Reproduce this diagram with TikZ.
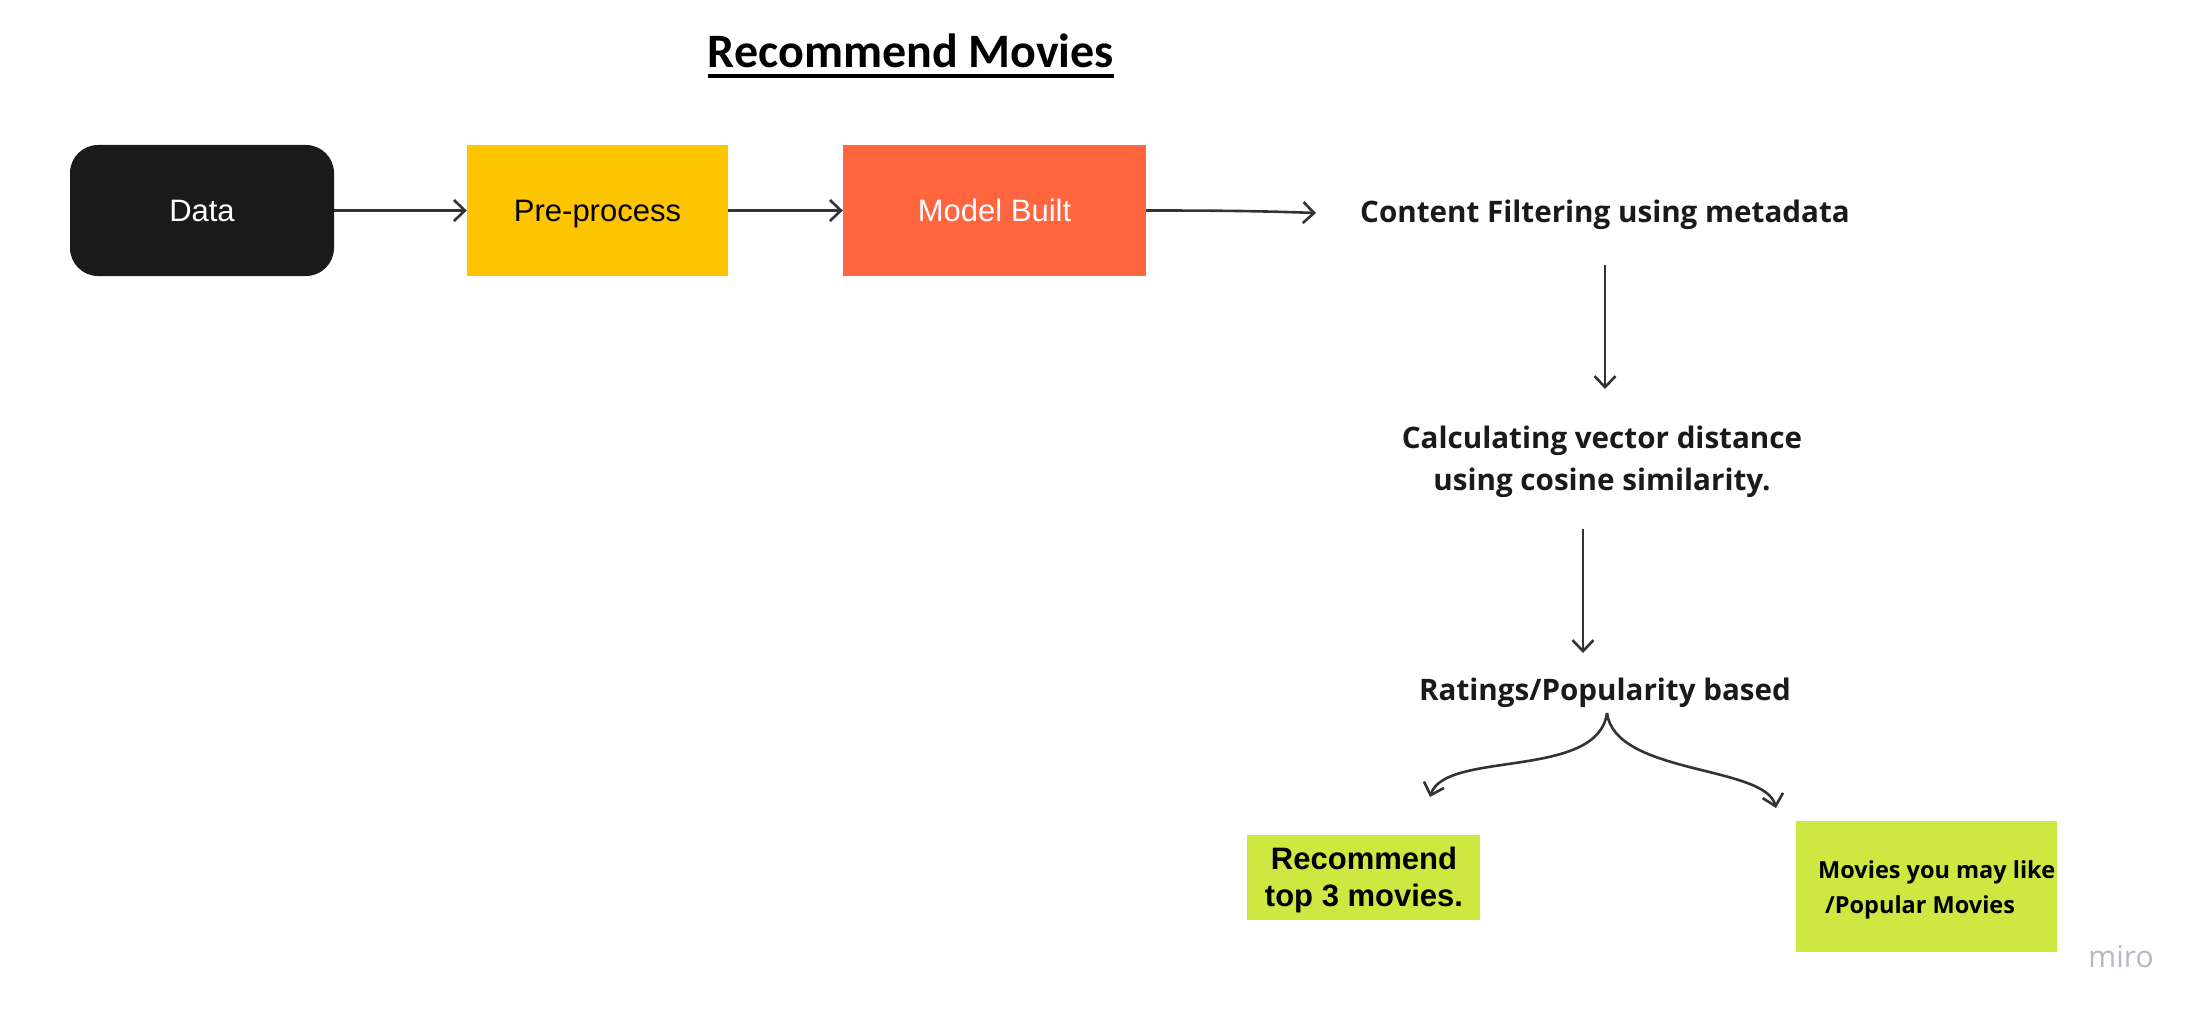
\documentclass[tikz,border=0pt]{standalone}
\usepackage{fontspec}
\setmainfont{Liberation Sans}
\newfontfamily\opensans{Open Sans}
\newfontfamily\carlito{Carlito}
\usetikzlibrary{arrows.meta}
\definecolor{databg}{HTML}{1A1A1A}
\definecolor{prebg}{HTML}{FDC500}
\definecolor{modelbg}{HTML}{FF653F}
\definecolor{limebg}{HTML}{CEE741}
\definecolor{ink}{HTML}{1A1A1A}
\definecolor{arrowink}{HTML}{333333}
\definecolor{logogray}{HTML}{B8B8C2}
\tikzset{
  flowbox/.style={draw=none, minimum height=131pt, inner sep=0pt,
    text height=23pt, text depth=0pt,
    font=\fontsize{31}{37}\selectfont},
  stepnote/.style={font=\opensans\bfseries\fontsize{29.6}{42}\selectfont, text=ink, align=center, inner sep=0pt},
  limebox/.style={fill=limebg, draw=none, inner sep=0pt},
  arr/.style={draw=arrowink, line width=2.6pt, -{Straight Barb[length=11pt,width=21pt]}},
}
\begin{document}
\begin{tikzpicture}[x=1pt,y=-1pt]
\useasboundingbox (0,0) rectangle (2207,1019);
\fill[white] (0,0) rectangle (2207,1019);

% title
\node[font=\carlito\bfseries\fontsize{48}{56}\selectfont, inner sep=0pt, anchor=base] (title) at (911,68) {Recommend Movies};
\draw[line width=3.2pt] ([yshift=-8pt]title.base west) -- ([yshift=-8pt]title.base east);

% top row
\node[flowbox, fill=databg, text=white, minimum width=264pt, rounded corners=28pt] (data) at (202,210.5) {Data};
\node[flowbox, fill=prebg, text=black, minimum width=261pt] (pre) at (597.5,210.5) {Pre-process};
\node[flowbox, fill=modelbg, text=white, minimum width=303pt] (model) at (994.5,210.5) {Model Built};

\node[stepnote] (content) at (1605,215) {Content Filtering using metadata};
\node[stepnote] (calc) at (1602,462) {Calculating vector distance\\using cosine similarity.};
\node[stepnote] (rat) at (1605,693) {Ratings/Popularity based};

\coordinate (cin) at (1316,213);
\coordinate (c1) at (1605,265);
\coordinate (c2) at (1605,389);
\coordinate (c3) at (1583,529);
\coordinate (c4) at (1583,653);
\coordinate (fork) at (1607,713);
\coordinate (lt) at (1430,797);
\coordinate (rt) at (1776,808);

\draw[arr] (data.east) -- (pre.west);
\draw[arr] (pre.east) -- (model.west);
\draw[arr] (model.east) .. controls (1220,210.5) and (1260,211) .. (cin);
\draw[arr] (c1) -- (c2);
\draw[arr] (c3) -- (c4);
\draw[arr] (fork) .. controls (1598,780) and (1445,750) .. (lt);
\draw[arr] (fork) .. controls (1615,775) and (1765,765) .. (rt);

% result boxes
\node[limebox, minimum width=233pt, minimum height=85pt] (top3) at (1363.5,877.5) {};
\node[font=\bfseries\fontsize{31}{37}\selectfont, align=center, inner sep=0pt, anchor=base] (top3a) at (1364,869) {Recommend};
\node[font=\bfseries\fontsize{31}{37}\selectfont, align=center, inner sep=0pt, anchor=base] (top3b) at (1364,906) {top 3 movies.};

\node[limebox, minimum width=261pt, minimum height=131pt] (popular) at (1926.5,886.5) {};
\node[font=\opensans\bfseries\fontsize{23.5}{35}\selectfont, inner sep=0pt, anchor=base west] (popa) at (1818,878) {Movies you may like};
\node[font=\opensans\bfseries\fontsize{23.5}{35}\selectfont, inner sep=0pt, anchor=base west] (popb) at (1825,913) {/Popular Movies};

% logo
\node[font=\opensans\fontsize{30}{36}\selectfont, text=logogray, inner sep=0pt] (logo) at (2121,957) {miro};
\end{tikzpicture}
\end{document}
